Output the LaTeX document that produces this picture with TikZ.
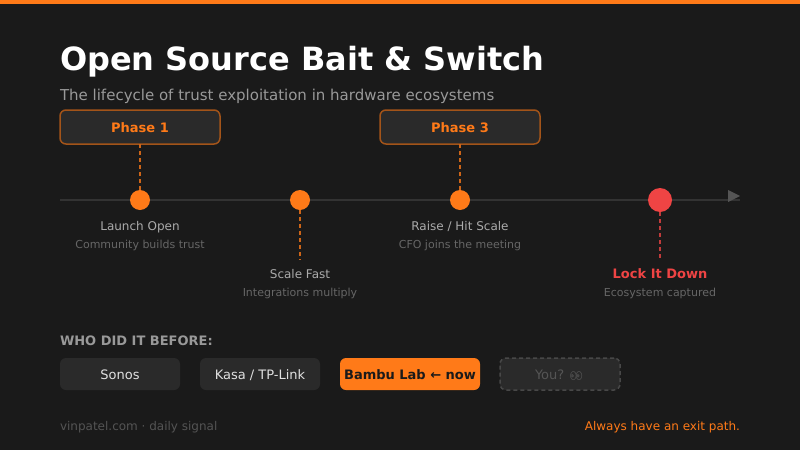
\documentclass[tikz,border=0pt]{standalone}
\usepackage{fontspec}
\setmainfont{DejaVu Sans}
\newfontfamily\emojifont{Noto Emoji}[FakeBold=2]
\definecolor{bgc}{HTML}{1A1A1A}
\definecolor{boxc}{HTML}{2A2A2A}
\definecolor{orangec}{HTML}{FF7A18}
\definecolor{redc}{HTML}{EF4444}
\definecolor{axisc}{HTML}{333333}
\definecolor{tipc}{HTML}{555555}
\definecolor{dimc}{HTML}{484848}
\newcommand{\fs}[1]{\fontsize{\dimexpr#1pt*3/4\relax}{\dimexpr#1pt\relax}\selectfont}
\tikzset{
  x=0.75pt,y=-0.75pt,
  txt/.style={inner sep=0pt,outer sep=0pt,anchor=base},
  phasebox/.style={draw=orangec!60!bgc,fill=boxc,rounded corners=4.5pt,line width=1.125pt,minimum width=120pt,minimum height=25.5pt,inner sep=0pt,outer sep=0pt},
  chip/.style={fill=boxc,rounded corners=4.5pt,minimum width=90pt,minimum height=24pt,inner sep=0pt,outer sep=0pt},
  dot/.style={circle,fill=orangec,minimum size=15pt,inner sep=0pt,outer sep=0pt},
  reddot/.style={circle,fill=redc,minimum size=18pt,inner sep=0pt,outer sep=0pt},
  link/.style={draw=orangec!78!bgc,line width=1.5pt,dash pattern=on 3pt off 2.25pt},
  redlink/.style={draw=redc!78!bgc,line width=1.5pt,dash pattern=on 3pt off 2.25pt},
  lab/.style={txt,text=white!67!black},
  sublab/.style={txt,text=white!40!black},
}
\begin{document}
\begin{tikzpicture}
\useasboundingbox (0,0) rectangle (800,450);
\fill[bgc] (0,0) rectangle (800,450);
\fill[orangec] (0,0) rectangle (800,4);
\node[txt,anchor=base west,text=white] (title) at (60,70) {\fs{32}\bfseries Open Source Bait \& Switch};
\node[txt,anchor=base west,text=white!60!black] (subtitle) at (60,100) {\fs{15}The lifecycle of trust exploitation in hardware ecosystems};
\coordinate (axisL) at (60,200);
\coordinate (axisR) at (740,200);
\draw[axisc,line width=1.5pt] (axisL) -- (axisR);
\fill[tipc] (728,190) -- (740,196) -- (728,202) -- cycle;
\node[phasebox] (p1) at (140,127) {};
\node[txt,text=orangec] (p1t) at (140,132) {\fs{13}\bfseries Phase 1};
\node[phasebox] (p3) at (460,127) {};
\node[txt,text=orangec] (p3t) at (460,132) {\fs{13}\bfseries Phase 3};
\node[dot] (d1) at (140,200) {};
\node[dot] (d2) at (300,200) {};
\node[dot] (d3) at (460,200) {};
\node[reddot] (d4) at (660,200) {};
\coordinate (e2) at (300,260);
\coordinate (e4) at (660,260);
\draw[link] (p1) -- (d1);
\draw[link] (p3) -- (d3);
\draw[link] (d2) -- (e2);
\draw[redlink] (d4) -- (e4);
\node[lab] (l1) at (140,230) {\fs{12}Launch Open};
\node[sublab] (s1) at (140,248) {\fs{11}Community builds trust};
\node[lab] (l2) at (300,278) {\fs{12}Scale Fast};
\node[sublab] (s2) at (300,296) {\fs{11}Integrations multiply};
\node[lab] (l3) at (460,230) {\fs{12}Raise / Hit Scale};
\node[sublab] (s3) at (460,248) {\fs{11}CFO joins the meeting};
\node[txt,text=redc] (l4) at (660,278) {\fs{13}\bfseries Lock It Down};
\node[sublab] (s4) at (660,296) {\fs{11}Ecosystem captured};
\node[txt,anchor=base west,text=white!60!black] (who) at (60,345) {\fs{13}\bfseries WHO DID IT BEFORE:};
\node[chip] (c1) at (120,374) {};
\node[txt,text=white!88!black] at (120,379) {\fs{13}Sonos};
\node[chip] (c2) at (260,374) {};
\node[txt,text=white!88!black] at (260,379) {\fs{13}Kasa / TP-Link};
\node[chip,fill=orangec,minimum width=105pt] (c3) at (410,374) {};
\node[txt,text=bgc] at (410,379) {\fs{13}\bfseries Bambu Lab ← now};
\node[chip,draw=dimc,line width=1.125pt,dash pattern=on 3pt off 2.25pt] (c4) at (560,374) {};
\node[txt,anchor=base west,text=tipc] (c4t) at (535,379) {\fs{13}You? {\color{dimc}\fs{10}\emojifont\symbol{"1F440}}};
\node[txt,anchor=base west,text=white!33!black] (foot) at (60,430) {\fs{12}vinpatel.com · daily signal};
\node[txt,anchor=base east,text=orangec] (foot2) at (740,430) {\fs{12}Always have an exit path.};
\end{tikzpicture}
\end{document}
